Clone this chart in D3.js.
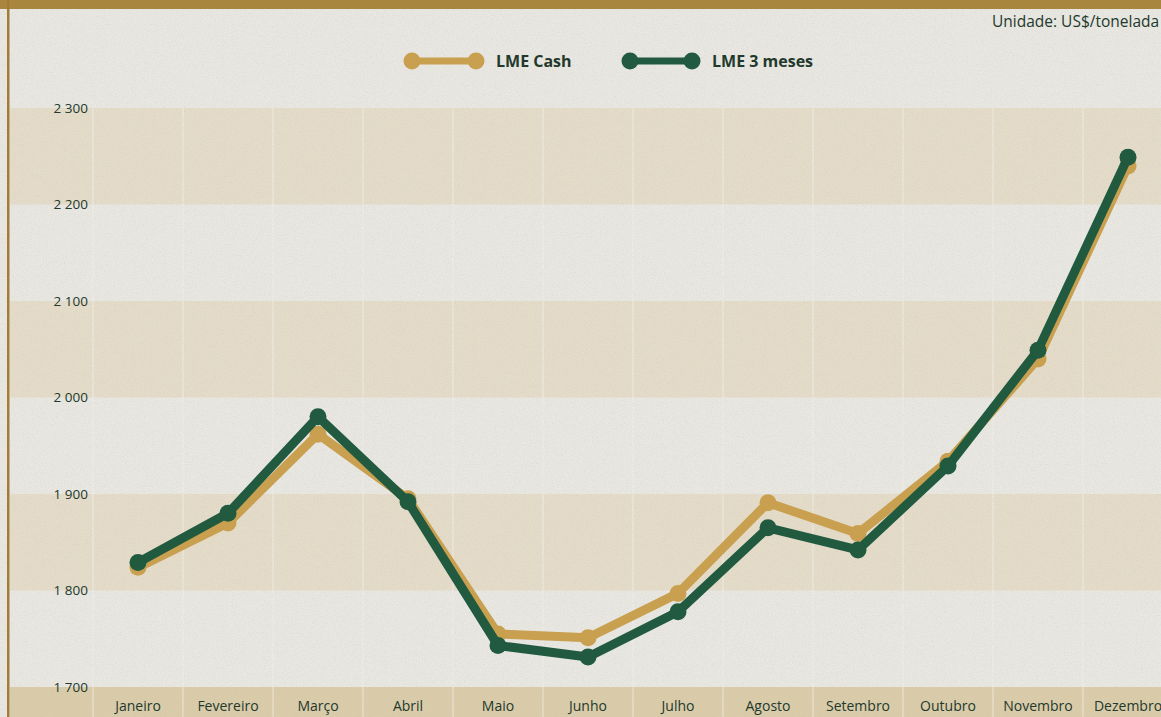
<!DOCTYPE html>
<html><head><meta charset="utf-8">
<script src="https://cdn.jsdelivr.net/npm/d3@7"></script>
<style>
html,body{margin:0;padding:0;background:#e7e6e1;}
svg{display:block;}
text{font-family:"Open Sans","Noto Sans",sans-serif;}
</style></head>
<body>
<svg id="chart" width="1161" height="717"></svg>
<script>
const months = ["Janeiro","Fevereiro","Março","Abril","Maio","Junho","Julho","Agosto","Setembro","Outubro","Novembro","Dezembro"];
const lmeCash = [1824,1870,1962,1895,1755,1751,1797,1891,1859,1934,2040,2240];
const lme3m   = [1829,1880,1980,1892,1743,1731,1778,1865,1842,1929,2049,2249];
const yTicks = [1700,1800,1900,2000,2100,2200,2300];
const yTickLabels = ["1 700","1 800","1 900","2 000","2 100","2 200","2 300"];
const seriesNames = ["LME Cash","LME 3 meses"];
const unitLabel = "Unidade: US$/tonelada";

const W = 1161, H = 717;
const svg = d3.select("#chart");
const defs = svg.append("defs");

// paper texture
const tex = defs.append("filter").attr("id","paper").attr("x",0).attr("y",0).attr("width","100%").attr("height","100%");
tex.append("feTurbulence").attr("type","fractalNoise").attr("baseFrequency","0.9").attr("numOctaves",2).attr("seed",3).attr("result","n");
tex.append("feColorMatrix").attr("in","n").attr("type","matrix")
  .attr("values","0 0 0 0 0.55  0 0 0 0 0.5  0 0 0 0 0.42  0 0 0 -1.6 0.9").attr("result","m");
tex.append("feComposite").attr("in","m").attr("in2","SourceGraphic").attr("operator","in");

const soft = defs.append("filter").attr("id","soft").attr("x","-5%").attr("y","-5%").attr("width","110%").attr("height","110%");
soft.append("feGaussianBlur").attr("stdDeviation",0.7);

const x = d3.scaleBand().domain(months).range([93, 93 + 90*12]).padding(0);
const y = d3.scaleLinear().domain([1700,2300]).range([687,108]);

// background
svg.append("rect").attr("width",W).attr("height",H).attr("fill","#e8e7e2");
// bands
const bandEdges = yTicks.slice(0,-1).map((v,i)=>[v,yTicks[i+1]]);
svg.append("g").selectAll("rect").data(bandEdges).join("rect")
  .attr("x",10).attr("width",W-10)
  .attr("y",d=>y(d[1])).attr("height",d=>y(d[0])-y(d[1]))
  .attr("fill",(d,i)=> i%2===0 ? "#e8e7e2" : "#e4dcc9");
// x label strip
svg.append("rect").attr("x",10).attr("width",W-10).attr("y",y(1700)).attr("height",H-y(1700)).attr("fill","#dacca9");

// vertical separators
svg.append("g").selectAll("line").data(months).join("line")
  .attr("x1",d=>x(d)).attr("x2",d=>x(d)).attr("y1",y(2300)).attr("y2",H)
  .attr("stroke","#f2f0ea").attr("stroke-opacity",0.4).attr("stroke-width",2);

// paper noise overlay
svg.append("rect").attr("width",W).attr("height",H).attr("fill","#fff").attr("filter","url(#paper)").attr("opacity",0.35);

// frame
svg.append("rect").attr("x",0).attr("y",0).attr("width",W).attr("height",9).attr("fill","#a8863e");
svg.append("rect").attr("x",7).attr("y",0).attr("width",2.5).attr("height",H).attr("fill","#a27c34");

// y labels
svg.append("g").selectAll("text").data(yTicks).join("text")
  .attr("x",88).attr("y",d=>y(d)).attr("dy","0.35em").attr("text-anchor","end")
  .attr("font-size",13.5).attr("fill","#22392c")
  .text((d,i)=>yTickLabels[i]);

// x labels
svg.append("g").selectAll("text").data(months).join("text")
  .attr("x",d=>x(d)+x.bandwidth()/2).attr("y",711).attr("text-anchor","middle")
  .attr("font-size",14).attr("fill","#22392c").text(d=>d);

// unit label
svg.append("text").attr("x",992).attr("y",27).attr("font-size",15.5).attr("fill","#22392c").text(unitLabel);

const colors = ["#c9a04f","#205a41"];
const line = d3.line().x((d,i)=>x(months[i])+x.bandwidth()/2).y(d=>y(d));

[lmeCash, lme3m].forEach((s,k)=>{
  const g = svg.append("g").attr("filter","url(#soft)");
  g.append("path").datum(s).attr("d",line).attr("fill","none")
    .attr("stroke",colors[k]).attr("stroke-width",9).attr("stroke-linejoin","round");
  g.selectAll("circle").data(s).join("circle")
    .attr("cx",(d,i)=>x(months[i])+x.bandwidth()/2).attr("cy",d=>y(d)).attr("r",8.5)
    .attr("fill",colors[k]);
});

// legend
const leg = [{x1:412,x2:476,tx:496},{x1:630,x2:692,tx:712}];
leg.forEach((l,k)=>{
  const g = svg.append("g").attr("filter","url(#soft)");
  g.append("line").attr("x1",l.x1).attr("x2",l.x2).attr("y1",61).attr("y2",61).attr("stroke",colors[k]).attr("stroke-width",7);
  g.append("circle").attr("cx",l.x1).attr("cy",61).attr("r",8.5).attr("fill",colors[k]);
  g.append("circle").attr("cx",l.x2).attr("cy",61).attr("r",8.5).attr("fill",colors[k]);
  svg.append("text").attr("x",l.tx).attr("y",67).attr("font-size",16).attr("font-weight","bold").attr("fill","#22392c").text(seriesNames[k]);
});
</script>
</body></html>
